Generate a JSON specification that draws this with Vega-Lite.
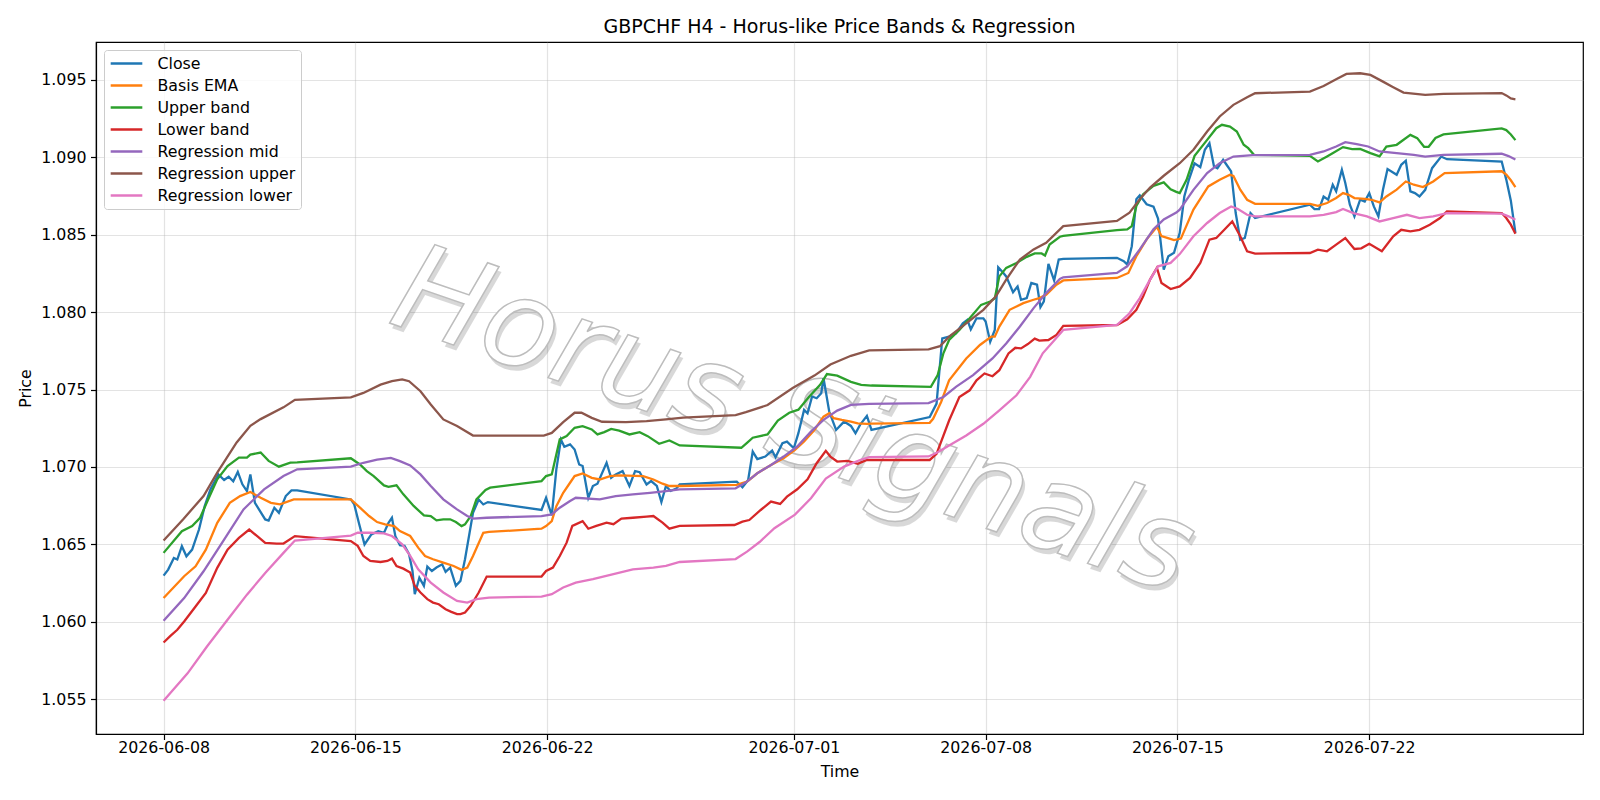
{
  "$schema": "https://vega.github.io/schema/vega-lite/v6.json",
  "width": 1487,
  "height": 692,
  "autosize": {"type": "none"},
  "padding": {"left": 96, "top": 42, "right": 17, "bottom": 66},
  "background": "white",
  "title": {"text": "GBPCHF H4 - Horus-like Price Bands & Regression", "fontSize": 19, "font": "DejaVu Sans", "fontWeight": "normal", "color": "black", "anchor": "middle", "offset": 10, "baseline": "alphabetic", "dy": 20},
  "datasets": {
    "wm": [{"t": "2026-06-30T23:24", "v": 1.07284, "label": "Horus Signals"}],
    "close": [
      {"t":"2026-06-08T00:00","v":1.06298},{"t":"2026-06-08T04:00","v":1.06337},{"t":"2026-06-08T09:00","v":1.06412},{"t":"2026-06-08T12:00","v":1.06402},{"t":"2026-06-08T16:00","v":1.06488},{"t":"2026-06-08T20:00","v":1.06423},{"t":"2026-06-09T01:00","v":1.06466},{"t":"2026-06-09T07:00","v":1.06596},{"t":"2026-06-09T12:00","v":1.06747},{"t":"2026-06-09T17:00","v":1.06855},{"t":"2026-06-10T00:00","v":1.06952},{"t":"2026-06-10T05:00","v":1.06916},{"t":"2026-06-10T09:00","v":1.06937},{"t":"2026-06-10T13:00","v":1.06907},{"t":"2026-06-10T17:00","v":1.06968},{"t":"2026-06-10T21:00","v":1.06888},{"t":"2026-06-11T01:00","v":1.06844},{"t":"2026-06-11T04:00","v":1.06952},{"t":"2026-06-11T08:00","v":1.06768},{"t":"2026-06-11T17:00","v":1.06661},{"t":"2026-06-11T20:00","v":1.06654},{"t":"2026-06-12T01:00","v":1.06736},{"t":"2026-06-12T05:00","v":1.06704},{"t":"2026-06-12T11:00","v":1.06812},{"t":"2026-06-12T16:00","v":1.06849},{"t":"2026-06-12T21:00","v":1.06849},
      {"t":"2026-06-14T20:00","v":1.0679},{"t":"2026-06-14T23:00","v":1.06758},{"t":"2026-06-15T03:00","v":1.06639},{"t":"2026-06-15T08:00","v":1.06499},{"t":"2026-06-15T14:00","v":1.06564},{"t":"2026-06-15T20:00","v":1.06585},{"t":"2026-06-16T01:00","v":1.06574},{"t":"2026-06-16T05:00","v":1.06639},{"t":"2026-06-16T08:00","v":1.06672},{"t":"2026-06-16T11:00","v":1.06553},{"t":"2026-06-16T15:00","v":1.06494},{"t":"2026-06-16T19:00","v":1.0649},{"t":"2026-06-16T23:00","v":1.06436},{"t":"2026-06-17T02:00","v":1.06328},{"t":"2026-06-17T04:00","v":1.06178},{"t":"2026-06-17T08:00","v":1.06285},{"t":"2026-06-17T12:00","v":1.06232},{"t":"2026-06-17T15:00","v":1.06356},{"t":"2026-06-17T19:00","v":1.06328},{"t":"2026-06-17T23:00","v":1.0635},{"t":"2026-06-18T04:00","v":1.06371},{"t":"2026-06-18T07:00","v":1.06322},{"t":"2026-06-18T11:00","v":1.0635},{"t":"2026-06-18T16:00","v":1.06232},{"t":"2026-06-18T20:00","v":1.06264},{"t":"2026-06-19T00:00","v":1.06404},{"t":"2026-06-19T04:00","v":1.06575},{"t":"2026-06-19T07:00","v":1.06704},{"t":"2026-06-19T12:00","v":1.0679},{"t":"2026-06-19T16:00","v":1.06758},{"t":"2026-06-19T20:00","v":1.06773},
      {"t":"2026-06-21T19:00","v":1.06722},{"t":"2026-06-21T23:00","v":1.06801},{"t":"2026-06-22T04:00","v":1.06687},{"t":"2026-06-22T08:00","v":1.06984},{"t":"2026-06-22T12:00","v":1.07177},{"t":"2026-06-22T15:00","v":1.0713},{"t":"2026-06-22T20:00","v":1.07146},{"t":"2026-06-23T00:00","v":1.07113},{"t":"2026-06-23T04:00","v":1.07016},{"t":"2026-06-23T07:00","v":1.07006},{"t":"2026-06-23T12:00","v":1.06801},{"t":"2026-06-23T16:00","v":1.06877},{"t":"2026-06-23T20:00","v":1.06892},{"t":"2026-06-24T04:00","v":1.07027},{"t":"2026-06-24T08:00","v":1.0693},{"t":"2026-06-24T12:00","v":1.06952},{"t":"2026-06-24T18:00","v":1.06973},{"t":"2026-06-25T00:00","v":1.06877},{"t":"2026-06-25T05:00","v":1.06973},{"t":"2026-06-25T09:00","v":1.06966},{"t":"2026-06-25T15:00","v":1.06887},{"t":"2026-06-25T19:00","v":1.06909},{"t":"2026-06-26T00:00","v":1.06877},{"t":"2026-06-26T04:00","v":1.06773},{"t":"2026-06-26T08:00","v":1.06877},{"t":"2026-06-26T12:00","v":1.06845},{"t":"2026-06-26T17:00","v":1.0686},{"t":"2026-06-26T20:00","v":1.06887},
      {"t":"2026-06-28T22:00","v":1.06905},{"t":"2026-06-29T03:00","v":1.06869},{"t":"2026-06-29T08:00","v":1.06916},{"t":"2026-06-29T12:00","v":1.07099},{"t":"2026-06-29T16:00","v":1.0705},{"t":"2026-06-29T23:00","v":1.07067},{"t":"2026-06-30T05:00","v":1.07106},{"t":"2026-06-30T08:00","v":1.07063},{"t":"2026-06-30T14:00","v":1.07153},{"t":"2026-06-30T18:00","v":1.07164},{"t":"2026-07-01T00:00","v":1.07121},{"t":"2026-07-01T04:00","v":1.07218},{"t":"2026-07-01T09:00","v":1.07369},{"t":"2026-07-01T12:00","v":1.07347},{"t":"2026-07-01T16:00","v":1.07455},{"t":"2026-07-01T20:00","v":1.07444},{"t":"2026-07-02T00:00","v":1.07476},{"t":"2026-07-02T02:00","v":1.07573},{"t":"2026-07-02T07:00","v":1.07358},{"t":"2026-07-02T13:00","v":1.07239},{"t":"2026-07-02T20:00","v":1.07293},{"t":"2026-07-03T02:00","v":1.07265},{"t":"2026-07-03T06:00","v":1.07218},{"t":"2026-07-03T10:00","v":1.07272},{"t":"2026-07-03T16:00","v":1.0733},{"t":"2026-07-03T20:00","v":1.07239},
      {"t":"2026-07-05T23:00","v":1.07322},{"t":"2026-07-06T05:00","v":1.07409},{"t":"2026-07-06T10:00","v":1.07831},{"t":"2026-07-06T16:00","v":1.07842},{"t":"2026-07-06T22:00","v":1.07863},{"t":"2026-07-07T04:00","v":1.07928},{"t":"2026-07-07T08:00","v":1.0795},{"t":"2026-07-07T11:00","v":1.07889},{"t":"2026-07-07T16:00","v":1.0796},{"t":"2026-07-07T22:00","v":1.0796},{"t":"2026-07-08T00:00","v":1.07939},{"t":"2026-07-08T04:00","v":1.07809},{"t":"2026-07-08T08:00","v":1.07885},{"t":"2026-07-08T11:00","v":1.0829},{"t":"2026-07-08T15:00","v":1.08257},{"t":"2026-07-08T18:00","v":1.08231},{"t":"2026-07-09T00:00","v":1.08128},{"t":"2026-07-09T04:00","v":1.08166},{"t":"2026-07-09T07:00","v":1.0808},{"t":"2026-07-09T12:00","v":1.08091},{"t":"2026-07-09T16:00","v":1.08188},{"t":"2026-07-09T21:00","v":1.08177},{"t":"2026-07-10T00:00","v":1.08032},{"t":"2026-07-10T03:00","v":1.08069},{"t":"2026-07-10T07:00","v":1.08312},{"t":"2026-07-10T12:00","v":1.08205},{"t":"2026-07-10T16:00","v":1.0834},{"t":"2026-07-10T20:00","v":1.08344},
      {"t":"2026-07-12T19:00","v":1.08351},{"t":"2026-07-13T01:00","v":1.08329},{"t":"2026-07-13T04:00","v":1.08307},{"t":"2026-07-13T08:00","v":1.08426},{"t":"2026-07-13T12:00","v":1.08729},{"t":"2026-07-13T15:00","v":1.08755},{"t":"2026-07-13T21:00","v":1.08697},{"t":"2026-07-14T03:00","v":1.08682},{"t":"2026-07-14T07:00","v":1.08604},{"t":"2026-07-14T12:00","v":1.08275},{"t":"2026-07-14T16:00","v":1.08361},{"t":"2026-07-14T21:00","v":1.08383},{"t":"2026-07-15T02:00","v":1.08512},{"t":"2026-07-15T06:00","v":1.08747},{"t":"2026-07-15T10:00","v":1.08855},{"t":"2026-07-15T15:00","v":1.08962},{"t":"2026-07-15T20:00","v":1.08937},{"t":"2026-07-16T00:00","v":1.09049},{"t":"2026-07-16T04:00","v":1.09092},{"t":"2026-07-16T08:00","v":1.08941},{"t":"2026-07-16T11:00","v":1.0893},{"t":"2026-07-16T16:00","v":1.08984},{"t":"2026-07-16T19:00","v":1.08952},{"t":"2026-07-16T23:00","v":1.08909},{"t":"2026-07-17T03:00","v":1.0864},{"t":"2026-07-17T07:00","v":1.08468},{"t":"2026-07-17T11:00","v":1.08479},{"t":"2026-07-17T16:00","v":1.0864},{"t":"2026-07-17T20:00","v":1.08608},
      {"t":"2026-07-19T20:00","v":1.08694},{"t":"2026-07-20T00:00","v":1.08666},{"t":"2026-07-20T04:00","v":1.08666},{"t":"2026-07-20T08:00","v":1.08747},{"t":"2026-07-20T12:00","v":1.08726},{"t":"2026-07-20T16:00","v":1.08823},{"t":"2026-07-20T19:00","v":1.0878},{"t":"2026-07-21T00:00","v":1.0892},{"t":"2026-07-21T03:00","v":1.08834},{"t":"2026-07-21T07:00","v":1.08694},{"t":"2026-07-21T11:00","v":1.08618},{"t":"2026-07-21T16:00","v":1.08726},{"t":"2026-07-21T20:00","v":1.08715},{"t":"2026-07-22T00:00","v":1.08769},{"t":"2026-07-22T04:00","v":1.08683},{"t":"2026-07-22T08:00","v":1.08618},{"t":"2026-07-22T12:00","v":1.0879},{"t":"2026-07-22T16:00","v":1.08924},{"t":"2026-07-23T00:00","v":1.08887},{"t":"2026-07-23T04:00","v":1.08952},{"t":"2026-07-23T08:00","v":1.08978},{"t":"2026-07-23T12:00","v":1.0878},{"t":"2026-07-23T16:00","v":1.08769},{"t":"2026-07-23T20:00","v":1.08747},{"t":"2026-07-24T01:00","v":1.0879},{"t":"2026-07-24T07:00","v":1.0893},{"t":"2026-07-24T15:00","v":1.09005},{"t":"2026-07-24T20:00","v":1.08988},
      {"t":"2026-07-26T20:00","v":1.08973},{"t":"2026-07-27T00:00","v":1.08856},{"t":"2026-07-27T04:00","v":1.0872},{"t":"2026-07-27T08:00","v":1.08511}
    ],
    "ema": [
      {"t":"2026-06-08T00:00","v":1.06153},{"t":"2026-06-08T18:00","v":1.06294},{"t":"2026-06-09T04:00","v":1.06358},{"t":"2026-06-09T13:00","v":1.06466},{"t":"2026-06-09T23:00","v":1.06639},{"t":"2026-06-10T10:00","v":1.06768},{"t":"2026-06-10T19:00","v":1.06812},{"t":"2026-06-11T04:00","v":1.06838},{"t":"2026-06-11T13:00","v":1.06801},{"t":"2026-06-11T22:00","v":1.06768},{"t":"2026-06-12T06:00","v":1.06758},{"t":"2026-06-12T18:00","v":1.0679},
      {"t":"2026-06-14T20:00","v":1.0679},{"t":"2026-06-15T04:00","v":1.06737},{"t":"2026-06-15T12:00","v":1.06683},{"t":"2026-06-15T19:00","v":1.06644},{"t":"2026-06-16T02:00","v":1.06629},{"t":"2026-06-16T10:00","v":1.06618},{"t":"2026-06-16T15:00","v":1.06586},{"t":"2026-06-17T00:00","v":1.06554},{"t":"2026-06-17T07:00","v":1.06479},{"t":"2026-06-17T13:00","v":1.06425},{"t":"2026-06-17T20:00","v":1.06404},{"t":"2026-06-18T05:00","v":1.06382},{"t":"2026-06-18T14:00","v":1.0636},{"t":"2026-06-18T21:00","v":1.06335},{"t":"2026-06-19T02:00","v":1.0635},{"t":"2026-06-19T07:00","v":1.06425},{"t":"2026-06-19T16:00","v":1.06575},{"t":"2026-06-19T21:00","v":1.0658},
      {"t":"2026-06-21T19:00","v":1.06601},{"t":"2026-06-21T23:00","v":1.06618},{"t":"2026-06-22T04:00","v":1.0665},{"t":"2026-06-22T08:00","v":1.06747},{"t":"2026-06-22T14:00","v":1.06833},{"t":"2026-06-22T20:00","v":1.06898},{"t":"2026-06-23T00:00","v":1.06941},{"t":"2026-06-23T07:00","v":1.06958},{"t":"2026-06-23T15:00","v":1.0693},{"t":"2026-06-23T22:00","v":1.06919},{"t":"2026-06-24T07:00","v":1.06941},{"t":"2026-06-24T15:00","v":1.06945},{"t":"2026-06-25T12:00","v":1.06941},{"t":"2026-06-25T21:00","v":1.06919},{"t":"2026-06-26T05:00","v":1.06892},{"t":"2026-06-26T11:00","v":1.06877},{"t":"2026-06-26T20:00","v":1.06877},
      {"t":"2026-06-28T22:00","v":1.06884},{"t":"2026-06-29T07:00","v":1.06905},{"t":"2026-06-29T16:00","v":1.06959},{"t":"2026-06-30T04:00","v":1.07013},{"t":"2026-06-30T15:00","v":1.07056},{"t":"2026-07-01T01:00","v":1.0711},{"t":"2026-07-01T09:00","v":1.07164},{"t":"2026-07-01T18:00","v":1.07239},{"t":"2026-07-02T02:00","v":1.07325},{"t":"2026-07-02T07:00","v":1.07347},{"t":"2026-07-02T11:00","v":1.07315},{"t":"2026-07-02T18:00","v":1.07304},{"t":"2026-07-03T02:00","v":1.07293},{"t":"2026-07-03T08:00","v":1.07282},{"t":"2026-07-03T16:00","v":1.07278},{"t":"2026-07-03T20:00","v":1.0728},
      {"t":"2026-07-05T23:00","v":1.07285},{"t":"2026-07-06T02:00","v":1.07311},{"t":"2026-07-06T09:00","v":1.0742},{"t":"2026-07-06T16:00","v":1.0756},{"t":"2026-07-07T07:00","v":1.07701},{"t":"2026-07-07T19:00","v":1.07788},{"t":"2026-07-08T05:00","v":1.07842},{"t":"2026-07-08T08:00","v":1.07842},{"t":"2026-07-08T12:00","v":1.07907},{"t":"2026-07-08T21:00","v":1.08015},{"t":"2026-07-09T09:00","v":1.08058},{"t":"2026-07-09T18:00","v":1.0808},{"t":"2026-07-09T23:00","v":1.08091},{"t":"2026-07-10T05:00","v":1.08112},{"t":"2026-07-10T14:00","v":1.08177},{"t":"2026-07-10T20:00","v":1.08205},
      {"t":"2026-07-12T19:00","v":1.08221},{"t":"2026-07-13T05:00","v":1.08253},{"t":"2026-07-13T12:00","v":1.08361},{"t":"2026-07-13T21:00","v":1.0847},{"t":"2026-07-14T06:00","v":1.08552},{"t":"2026-07-14T10:00","v":1.08491},{"t":"2026-07-14T15:00","v":1.0848},{"t":"2026-07-14T21:00","v":1.08465},{"t":"2026-07-15T03:00","v":1.08475},{"t":"2026-07-15T14:00","v":1.08662},{"t":"2026-07-16T03:00","v":1.08812},{"t":"2026-07-16T13:00","v":1.08855},{"t":"2026-07-16T22:00","v":1.08887},{"t":"2026-07-17T01:00","v":1.0888},{"t":"2026-07-17T07:00","v":1.08791},{"t":"2026-07-17T13:00","v":1.08726},{"t":"2026-07-17T20:00","v":1.087},
      {"t":"2026-07-19T20:00","v":1.087},{"t":"2026-07-20T03:00","v":1.08687},{"t":"2026-07-20T11:00","v":1.08705},{"t":"2026-07-20T19:00","v":1.08737},{"t":"2026-07-21T01:00","v":1.08769},{"t":"2026-07-21T06:00","v":1.08758},{"t":"2026-07-21T11:00","v":1.08737},{"t":"2026-07-21T20:00","v":1.08732},{"t":"2026-07-22T02:00","v":1.08726},{"t":"2026-07-22T09:00","v":1.08709},{"t":"2026-07-22T15:00","v":1.08747},{"t":"2026-07-23T00:00","v":1.08791},{"t":"2026-07-23T08:00","v":1.08844},{"t":"2026-07-23T15:00","v":1.08823},{"t":"2026-07-23T23:00","v":1.08808},{"t":"2026-07-24T08:00","v":1.08844},{"t":"2026-07-24T18:00","v":1.08898},
      {"t":"2026-07-26T20:00","v":1.0891},{"t":"2026-07-27T00:00","v":1.08889},{"t":"2026-07-27T04:00","v":1.08852},{"t":"2026-07-27T08:00","v":1.08807}
    ],
    "upper": [
      {"t":"2026-06-08T00:00","v":1.06445},{"t":"2026-06-08T16:00","v":1.06585},{"t":"2026-06-09T01:00","v":1.06618},{"t":"2026-06-09T08:00","v":1.06672},{"t":"2026-06-09T15:00","v":1.0679},{"t":"2026-06-09T23:00","v":1.0692},{"t":"2026-06-10T08:00","v":1.07006},{"t":"2026-06-10T18:00","v":1.0706},{"t":"2026-06-11T01:00","v":1.0706},{"t":"2026-06-11T04:00","v":1.0708},{"t":"2026-06-11T13:00","v":1.07093},{"t":"2026-06-11T20:00","v":1.07039},{"t":"2026-06-12T05:00","v":1.07002},{"t":"2026-06-12T15:00","v":1.07028},{"t":"2026-06-12T21:00","v":1.0703},
      {"t":"2026-06-14T20:00","v":1.07056},{"t":"2026-06-15T04:00","v":1.07016},{"t":"2026-06-15T10:00","v":1.06973},{"t":"2026-06-15T16:00","v":1.06941},{"t":"2026-06-16T01:00","v":1.06881},{"t":"2026-06-16T05:00","v":1.06872},{"t":"2026-06-16T12:00","v":1.06881},{"t":"2026-06-16T18:00","v":1.06823},{"t":"2026-06-17T03:00","v":1.06748},{"t":"2026-06-17T12:00","v":1.06687},{"t":"2026-06-17T18:00","v":1.06683},{"t":"2026-06-17T23:00","v":1.06655},{"t":"2026-06-18T05:00","v":1.06662},{"t":"2026-06-18T11:00","v":1.06662},{"t":"2026-06-18T16:00","v":1.06644},{"t":"2026-06-18T21:00","v":1.06618},{"t":"2026-06-19T00:00","v":1.06629},{"t":"2026-06-19T05:00","v":1.06683},{"t":"2026-06-19T10:00","v":1.0679},{"t":"2026-06-19T18:00","v":1.06851},{"t":"2026-06-19T22:00","v":1.06866},
      {"t":"2026-06-21T19:00","v":1.06909},{"t":"2026-06-21T23:00","v":1.06941},{"t":"2026-06-22T04:00","v":1.06952},{"t":"2026-06-22T11:00","v":1.07178},{"t":"2026-06-22T17:00","v":1.07199},{"t":"2026-06-23T00:00","v":1.07253},{"t":"2026-06-23T07:00","v":1.07264},{"t":"2026-06-23T15:00","v":1.07242},{"t":"2026-06-23T20:00","v":1.0721},{"t":"2026-06-24T02:00","v":1.07225},{"t":"2026-06-24T08:00","v":1.07246},{"t":"2026-06-24T15:00","v":1.07235},{"t":"2026-06-25T00:00","v":1.0721},{"t":"2026-06-25T09:00","v":1.07225},{"t":"2026-06-25T16:00","v":1.07199},{"t":"2026-06-26T02:00","v":1.0715},{"t":"2026-06-26T11:00","v":1.07171},{"t":"2026-06-26T20:00","v":1.07139},
      {"t":"2026-06-29T02:00","v":1.07124},{"t":"2026-06-29T07:00","v":1.07156},{"t":"2026-06-29T12:00","v":1.07189},{"t":"2026-06-30T01:00","v":1.0721},{"t":"2026-06-30T10:00","v":1.073},{"t":"2026-06-30T20:00","v":1.0735},{"t":"2026-07-01T04:00","v":1.0737},{"t":"2026-07-01T13:00","v":1.0745},{"t":"2026-07-01T23:00","v":1.0753},{"t":"2026-07-02T05:00","v":1.076},{"t":"2026-07-02T14:00","v":1.0759},{"t":"2026-07-03T02:00","v":1.0755},{"t":"2026-07-03T11:00","v":1.0753},{"t":"2026-07-03T20:00","v":1.07526},
      {"t":"2026-07-06T00:00","v":1.07517},{"t":"2026-07-06T06:00","v":1.07593},{"t":"2026-07-06T11:00","v":1.07734},{"t":"2026-07-06T16:00","v":1.0782},{"t":"2026-07-07T01:00","v":1.07885},{"t":"2026-07-07T10:00","v":1.07961},{"t":"2026-07-07T20:00","v":1.08047},{"t":"2026-07-08T04:00","v":1.08069},{"t":"2026-07-08T08:00","v":1.0809},{"t":"2026-07-08T12:00","v":1.08231},{"t":"2026-07-08T18:00","v":1.08286},{"t":"2026-07-09T03:00","v":1.08318},{"t":"2026-07-09T12:00","v":1.08357},{"t":"2026-07-09T19:00","v":1.08379},{"t":"2026-07-10T01:00","v":1.08379},{"t":"2026-07-10T04:00","v":1.08366},{"t":"2026-07-10T08:00","v":1.08437},{"t":"2026-07-10T17:00","v":1.08487},{"t":"2026-07-10T20:00","v":1.08492},
      {"t":"2026-07-12T19:00","v":1.0853},{"t":"2026-07-13T04:00","v":1.08535},{"t":"2026-07-13T08:00","v":1.08556},{"t":"2026-07-13T12:00","v":1.08686},{"t":"2026-07-13T18:00","v":1.08762},{"t":"2026-07-14T03:00","v":1.08816},{"t":"2026-07-14T12:00","v":1.08838},{"t":"2026-07-14T18:00","v":1.08794},{"t":"2026-07-14T23:00","v":1.08777},{"t":"2026-07-15T02:00","v":1.08769},{"t":"2026-07-15T08:00","v":1.08855},{"t":"2026-07-15T15:00","v":1.0901},{"t":"2026-07-16T02:00","v":1.09113},{"t":"2026-07-16T10:00","v":1.09188},{"t":"2026-07-16T15:00","v":1.0921},{"t":"2026-07-16T22:00","v":1.09199},{"t":"2026-07-17T04:00","v":1.09167},{"t":"2026-07-17T10:00","v":1.09081},{"t":"2026-07-17T14:00","v":1.09059},{"t":"2026-07-17T19:00","v":1.09016},
      {"t":"2026-07-19T20:00","v":1.0901},{"t":"2026-07-20T03:00","v":1.08973},{"t":"2026-07-20T11:00","v":1.09006},{"t":"2026-07-20T17:00","v":1.09031},{"t":"2026-07-21T01:00","v":1.09066},{"t":"2026-07-21T09:00","v":1.09053},{"t":"2026-07-21T16:00","v":1.09055},{"t":"2026-07-22T01:00","v":1.09027},{"t":"2026-07-22T09:00","v":1.09006},{"t":"2026-07-22T15:00","v":1.0907},{"t":"2026-07-23T00:00","v":1.09081},{"t":"2026-07-23T12:00","v":1.09145},{"t":"2026-07-23T18:00","v":1.09124},{"t":"2026-07-24T00:00","v":1.09068},{"t":"2026-07-24T04:00","v":1.09068},{"t":"2026-07-24T10:00","v":1.09125},{"t":"2026-07-24T17:00","v":1.09148},
      {"t":"2026-07-26T20:00","v":1.09187},{"t":"2026-07-27T00:00","v":1.09176},{"t":"2026-07-27T04:00","v":1.09148},{"t":"2026-07-27T08:00","v":1.09111}
    ],
    "lower": [
      {"t":"2026-06-08T00:00","v":1.05866},{"t":"2026-06-08T06:00","v":1.05909},{"t":"2026-06-08T12:00","v":1.05948},{"t":"2026-06-08T18:00","v":1.06002},{"t":"2026-06-09T04:00","v":1.06099},{"t":"2026-06-09T13:00","v":1.06186},{"t":"2026-06-09T23:00","v":1.06348},{"t":"2026-06-10T08:00","v":1.06466},{"t":"2026-06-10T18:00","v":1.06542},{"t":"2026-06-11T03:00","v":1.06596},{"t":"2026-06-11T10:00","v":1.06553},{"t":"2026-06-11T17:00","v":1.0651},{"t":"2026-06-12T03:00","v":1.06505},{"t":"2026-06-12T09:00","v":1.06505},{"t":"2026-06-12T19:00","v":1.06553},
      {"t":"2026-06-14T20:00","v":1.06521},{"t":"2026-06-15T02:00","v":1.0649},{"t":"2026-06-15T07:00","v":1.06425},{"t":"2026-06-15T13:00","v":1.06393},{"t":"2026-06-15T22:00","v":1.06386},{"t":"2026-06-16T04:00","v":1.06393},{"t":"2026-06-16T08:00","v":1.06408},{"t":"2026-06-16T12:00","v":1.0636},{"t":"2026-06-16T18:00","v":1.06343},{"t":"2026-06-17T00:00","v":1.06318},{"t":"2026-06-17T04:00","v":1.06232},{"t":"2026-06-17T09:00","v":1.06189},{"t":"2026-06-17T15:00","v":1.06146},{"t":"2026-06-17T20:00","v":1.06124},{"t":"2026-06-18T01:00","v":1.06113},{"t":"2026-06-18T07:00","v":1.06081},{"t":"2026-06-18T12:00","v":1.06064},{"t":"2026-06-18T17:00","v":1.06049},{"t":"2026-06-18T20:00","v":1.06049},{"t":"2026-06-19T00:00","v":1.0606},{"t":"2026-06-19T05:00","v":1.06103},{"t":"2026-06-19T12:00","v":1.06189},{"t":"2026-06-19T19:00","v":1.06292},
      {"t":"2026-06-21T19:00","v":1.06292},{"t":"2026-06-21T23:00","v":1.06328},{"t":"2026-06-22T05:00","v":1.0635},{"t":"2026-06-22T11:00","v":1.06425},{"t":"2026-06-22T17:00","v":1.06511},{"t":"2026-06-22T22:00","v":1.06619},{"t":"2026-06-23T07:00","v":1.0665},{"t":"2026-06-23T12:00","v":1.06601},{"t":"2026-06-23T19:00","v":1.06619},{"t":"2026-06-24T04:00","v":1.0664},{"t":"2026-06-24T10:00","v":1.0663},{"t":"2026-06-24T17:00","v":1.06666},{"t":"2026-06-25T03:00","v":1.06672},{"t":"2026-06-25T15:00","v":1.06679},{"t":"2026-06-25T21:00","v":1.06683},{"t":"2026-06-26T05:00","v":1.0664},{"t":"2026-06-26T11:00","v":1.06601},{"t":"2026-06-26T20:00","v":1.06619},
      {"t":"2026-06-28T20:00","v":1.06625},{"t":"2026-06-29T03:00","v":1.06647},{"t":"2026-06-29T09:00","v":1.06657},{"t":"2026-06-29T19:00","v":1.06722},{"t":"2026-06-30T04:00","v":1.06776},{"t":"2026-06-30T12:00","v":1.06761},{"t":"2026-06-30T18:00","v":1.06808},{"t":"2026-07-01T03:00","v":1.06856},{"t":"2026-07-01T12:00","v":1.0692},{"t":"2026-07-01T20:00","v":1.07024},{"t":"2026-07-02T04:00","v":1.07104},{"t":"2026-07-02T08:00","v":1.07067},{"t":"2026-07-02T14:00","v":1.07035},{"t":"2026-07-02T23:00","v":1.07039},{"t":"2026-07-03T08:00","v":1.0702},{"t":"2026-07-03T16:00","v":1.07045},{"t":"2026-07-03T20:00","v":1.07045},
      {"t":"2026-07-05T23:00","v":1.07045},{"t":"2026-07-06T05:00","v":1.07084},{"t":"2026-07-06T16:00","v":1.073},{"t":"2026-07-07T01:00","v":1.07452},{"t":"2026-07-07T10:00","v":1.07495},{"t":"2026-07-07T16:00","v":1.0756},{"t":"2026-07-07T23:00","v":1.07604},{"t":"2026-07-08T06:00","v":1.07586},{"t":"2026-07-08T12:00","v":1.07625},{"t":"2026-07-08T20:00","v":1.07733},{"t":"2026-07-09T02:00","v":1.0777},{"t":"2026-07-09T07:00","v":1.07766},{"t":"2026-07-09T13:00","v":1.07794},{"t":"2026-07-09T19:00","v":1.07829},{"t":"2026-07-09T23:00","v":1.07816},{"t":"2026-07-10T07:00","v":1.0782},{"t":"2026-07-10T14:00","v":1.07853},{"t":"2026-07-10T20:00","v":1.07911},
      {"t":"2026-07-12T19:00","v":1.07917},{"t":"2026-07-13T04:00","v":1.07954},{"t":"2026-07-13T12:00","v":1.08015},{"t":"2026-07-13T18:00","v":1.08102},{"t":"2026-07-14T00:00","v":1.0821},{"t":"2026-07-14T06:00","v":1.08286},{"t":"2026-07-14T10:00","v":1.08188},{"t":"2026-07-14T18:00","v":1.08149},{"t":"2026-07-15T02:00","v":1.08166},{"t":"2026-07-15T11:00","v":1.08221},{"t":"2026-07-15T20:00","v":1.08318},{"t":"2026-07-16T04:00","v":1.08468},{"t":"2026-07-16T10:00","v":1.08479},{"t":"2026-07-16T17:00","v":1.08532},{"t":"2026-07-17T00:00","v":1.08586},{"t":"2026-07-17T07:00","v":1.0849},{"t":"2026-07-17T13:00","v":1.08393},{"t":"2026-07-17T20:00","v":1.08378},
      {"t":"2026-07-19T20:00","v":1.08382},{"t":"2026-07-20T03:00","v":1.08404},{"t":"2026-07-20T11:00","v":1.08393},{"t":"2026-07-20T19:00","v":1.08436},{"t":"2026-07-21T03:00","v":1.08479},{"t":"2026-07-21T11:00","v":1.08408},{"t":"2026-07-21T17:00","v":1.08412},{"t":"2026-07-22T00:00","v":1.08442},{"t":"2026-07-22T11:00","v":1.08393},{"t":"2026-07-22T21:00","v":1.0849},{"t":"2026-07-23T04:00","v":1.08532},{"t":"2026-07-23T12:00","v":1.08522},{"t":"2026-07-23T20:00","v":1.08532},{"t":"2026-07-24T05:00","v":1.08565},{"t":"2026-07-24T14:00","v":1.08608},{"t":"2026-07-24T20:00","v":1.08651},
      {"t":"2026-07-26T20:00","v":1.0864},{"t":"2026-07-27T00:00","v":1.08608},{"t":"2026-07-27T04:00","v":1.08565},{"t":"2026-07-27T08:00","v":1.08506}
    ],
    "rmid": [
      {"t":"2026-06-08T00:00","v":1.06006},{"t":"2026-06-08T18:00","v":1.06153},{"t":"2026-06-09T11:00","v":1.06326},{"t":"2026-06-10T05:00","v":1.06531},{"t":"2026-06-10T22:00","v":1.06726},{"t":"2026-06-11T16:00","v":1.06855},{"t":"2026-06-12T09:00","v":1.06942},{"t":"2026-06-12T21:00","v":1.06985},
      {"t":"2026-06-14T20:00","v":1.07002},{"t":"2026-06-15T07:00","v":1.07027},{"t":"2026-06-15T19:00","v":1.07048},{"t":"2026-06-16T07:00","v":1.07059},{"t":"2026-06-16T15:00","v":1.07038},{"t":"2026-06-17T00:00","v":1.0701},{"t":"2026-06-17T09:00","v":1.06952},{"t":"2026-06-17T18:00","v":1.06877},{"t":"2026-06-18T05:00","v":1.06791},{"t":"2026-06-18T17:00","v":1.06726},{"t":"2026-06-19T02:00","v":1.06683},{"t":"2026-06-19T07:00","v":1.06666},{"t":"2026-06-19T19:00","v":1.06672},
      {"t":"2026-06-21T19:00","v":1.06683},{"t":"2026-06-22T04:00","v":1.06694},{"t":"2026-06-22T11:00","v":1.06737},{"t":"2026-06-22T20:00","v":1.0678},{"t":"2026-06-23T01:00","v":1.06801},{"t":"2026-06-23T22:00","v":1.0679},{"t":"2026-06-24T12:00","v":1.06812},{"t":"2026-06-25T03:00","v":1.06823},{"t":"2026-06-25T18:00","v":1.06833},{"t":"2026-06-26T08:00","v":1.06844},{"t":"2026-06-26T20:00","v":1.06855},
      {"t":"2026-06-28T21:00","v":1.06862},{"t":"2026-06-29T07:00","v":1.06905},{"t":"2026-06-29T16:00","v":1.06959},{"t":"2026-06-30T04:00","v":1.07013},{"t":"2026-06-30T15:00","v":1.07067},{"t":"2026-07-01T03:00","v":1.07132},{"t":"2026-07-01T15:00","v":1.07228},{"t":"2026-07-02T02:00","v":1.07304},{"t":"2026-07-02T14:00","v":1.07364},{"t":"2026-07-03T02:00","v":1.07401},{"t":"2026-07-03T18:00","v":1.07407},
      {"t":"2026-07-05T22:00","v":1.07412},{"t":"2026-07-06T11:00","v":1.07452},{"t":"2026-07-06T22:00","v":1.07517},{"t":"2026-07-07T13:00","v":1.07593},{"t":"2026-07-08T06:00","v":1.07701},{"t":"2026-07-08T18:00","v":1.07798},{"t":"2026-07-09T06:00","v":1.07907},{"t":"2026-07-09T18:00","v":1.08026},{"t":"2026-07-10T05:00","v":1.08123},{"t":"2026-07-10T17:00","v":1.08214},{"t":"2026-07-10T20:00","v":1.08225},
      {"t":"2026-07-12T19:00","v":1.08253},{"t":"2026-07-13T04:00","v":1.08296},{"t":"2026-07-13T15:00","v":1.08405},{"t":"2026-07-14T03:00","v":1.08535},{"t":"2026-07-14T12:00","v":1.08599},{"t":"2026-07-14T23:00","v":1.08643},{"t":"2026-07-15T02:00","v":1.08662},{"t":"2026-07-15T14:00","v":1.0879},{"t":"2026-07-16T02:00","v":1.08898},{"t":"2026-07-16T13:00","v":1.08962},{"t":"2026-07-17T01:00","v":1.09005},{"t":"2026-07-17T18:00","v":1.09014},
      {"t":"2026-07-19T20:00","v":1.09016},{"t":"2026-07-20T08:00","v":1.09038},{"t":"2026-07-20T19:00","v":1.0907},{"t":"2026-07-21T03:00","v":1.09098},{"t":"2026-07-21T13:00","v":1.09085},{"t":"2026-07-21T23:00","v":1.0907},{"t":"2026-07-22T09:00","v":1.09038},{"t":"2026-07-23T00:00","v":1.09027},{"t":"2026-07-23T15:00","v":1.09016},{"t":"2026-07-24T01:00","v":1.09005},{"t":"2026-07-24T17:00","v":1.09016},
      {"t":"2026-07-26T20:00","v":1.09023},{"t":"2026-07-27T02:00","v":1.09008},{"t":"2026-07-27T08:00","v":1.08986}
    ],
    "rupper": [
      {"t":"2026-06-08T00:00","v":1.06525},{"t":"2026-06-08T17:00","v":1.06661},{"t":"2026-06-09T11:00","v":1.06812},{"t":"2026-06-09T23:00","v":1.06963},{"t":"2026-06-10T16:00","v":1.07158},{"t":"2026-06-11T04:00","v":1.07266},{"t":"2026-06-11T13:00","v":1.07309},{"t":"2026-06-12T09:00","v":1.07385},{"t":"2026-06-12T19:00","v":1.07434},
      {"t":"2026-06-14T20:00","v":1.07449},{"t":"2026-06-15T07:00","v":1.07478},{"t":"2026-06-15T22:00","v":1.07532},{"t":"2026-06-16T08:00","v":1.07554},{"t":"2026-06-16T17:00","v":1.07565},{"t":"2026-06-16T23:00","v":1.07554},{"t":"2026-06-17T09:00","v":1.07489},{"t":"2026-06-17T18:00","v":1.07403},{"t":"2026-06-18T05:00","v":1.07307},{"t":"2026-06-18T17:00","v":1.07264},{"t":"2026-06-19T07:00","v":1.07203},
      {"t":"2026-06-21T21:00","v":1.07203},{"t":"2026-06-22T04:00","v":1.0722},{"t":"2026-06-22T14:00","v":1.0729},{"t":"2026-06-23T00:00","v":1.0735},{"t":"2026-06-23T06:00","v":1.0735},{"t":"2026-06-23T15:00","v":1.07317},{"t":"2026-06-24T00:00","v":1.07292},{"t":"2026-06-24T21:00","v":1.0729},{"t":"2026-06-25T15:00","v":1.07296},{"t":"2026-06-26T08:00","v":1.07307},{"t":"2026-06-26T23:00","v":1.07318},
      {"t":"2026-06-28T21:00","v":1.07335},{"t":"2026-06-29T06:00","v":1.07354},{"t":"2026-06-30T01:00","v":1.074},{"t":"2026-06-30T23:00","v":1.0751},{"t":"2026-07-01T18:00","v":1.0759},{"t":"2026-07-02T08:00","v":1.07662},{"t":"2026-07-03T02:00","v":1.07718},{"t":"2026-07-03T18:00","v":1.07753},
      {"t":"2026-07-05T22:00","v":1.0776},{"t":"2026-07-06T08:00","v":1.0778},{"t":"2026-07-06T16:00","v":1.07842},{"t":"2026-07-07T07:00","v":1.07928},{"t":"2026-07-07T22:00","v":1.08015},{"t":"2026-07-08T09:00","v":1.08102},{"t":"2026-07-08T18:00","v":1.0821},{"t":"2026-07-09T06:00","v":1.0834},{"t":"2026-07-09T18:00","v":1.08405},{"t":"2026-07-10T05:00","v":1.08448},{"t":"2026-07-10T20:00","v":1.08556},
      {"t":"2026-07-12T19:00","v":1.08589},{"t":"2026-07-13T06:00","v":1.08643},{"t":"2026-07-13T15:00","v":1.08729},{"t":"2026-07-14T00:00","v":1.08805},{"t":"2026-07-14T12:00","v":1.08881},{"t":"2026-07-15T02:00","v":1.08962},{"t":"2026-07-15T14:00","v":1.09049},{"t":"2026-07-16T02:00","v":1.09167},{"t":"2026-07-16T13:00","v":1.09264},{"t":"2026-07-17T01:00","v":1.09339},{"t":"2026-07-17T13:00","v":1.09388},{"t":"2026-07-17T20:00","v":1.09414},
      {"t":"2026-07-19T20:00","v":1.09425},{"t":"2026-07-20T08:00","v":1.09461},{"t":"2026-07-20T19:00","v":1.09504},{"t":"2026-07-21T04:00","v":1.09539},{"t":"2026-07-21T16:00","v":1.09543},{"t":"2026-07-22T01:00","v":1.09532},{"t":"2026-07-22T12:00","v":1.09489},{"t":"2026-07-22T21:00","v":1.09453},{"t":"2026-07-23T06:00","v":1.09418},{"t":"2026-07-24T01:00","v":1.09403},{"t":"2026-07-24T17:00","v":1.0941},
      {"t":"2026-07-26T20:00","v":1.09415},{"t":"2026-07-27T00:00","v":1.094},{"t":"2026-07-27T04:00","v":1.0938},{"t":"2026-07-27T08:00","v":1.09375}
    ],
    "rlower": [
      {"t":"2026-06-08T00:00","v":1.0549},{"t":"2026-06-08T21:00","v":1.05667},{"t":"2026-06-09T14:00","v":1.0584},{"t":"2026-06-10T08:00","v":1.06013},{"t":"2026-06-11T01:00","v":1.06175},{"t":"2026-06-11T17:00","v":1.06315},{"t":"2026-06-12T09:00","v":1.06445},{"t":"2026-06-12T19:00","v":1.06525},
      {"t":"2026-06-14T20:00","v":1.06557},{"t":"2026-06-15T02:00","v":1.06575},{"t":"2026-06-15T13:00","v":1.06575},{"t":"2026-06-16T01:00","v":1.06571},{"t":"2026-06-16T08:00","v":1.06554},{"t":"2026-06-16T17:00","v":1.065},{"t":"2026-06-17T00:00","v":1.06425},{"t":"2026-06-17T07:00","v":1.06339},{"t":"2026-06-17T18:00","v":1.06253},{"t":"2026-06-18T05:00","v":1.06189},{"t":"2026-06-18T17:00","v":1.06135},{"t":"2026-06-19T02:00","v":1.06124},{"t":"2026-06-19T10:00","v":1.06146},{"t":"2026-06-19T21:00","v":1.06156},
      {"t":"2026-06-21T19:00","v":1.06163},{"t":"2026-06-22T04:00","v":1.06178},{"t":"2026-06-22T14:00","v":1.06221},{"t":"2026-06-23T01:00","v":1.06253},{"t":"2026-06-23T16:00","v":1.06275},{"t":"2026-06-24T10:00","v":1.06307},{"t":"2026-06-25T03:00","v":1.06339},{"t":"2026-06-25T21:00","v":1.0635},{"t":"2026-06-26T08:00","v":1.06361},{"t":"2026-06-26T20:00","v":1.06386},
      {"t":"2026-06-28T21:00","v":1.06405},{"t":"2026-06-29T07:00","v":1.06453},{"t":"2026-06-29T18:00","v":1.06515},{"t":"2026-06-30T07:00","v":1.06604},{"t":"2026-07-01T01:00","v":1.06692},{"t":"2026-07-01T15:00","v":1.06798},{"t":"2026-07-02T04:00","v":1.06925},{"t":"2026-07-02T20:00","v":1.07002},{"t":"2026-07-03T10:00","v":1.07045},{"t":"2026-07-03T18:00","v":1.07064},
      {"t":"2026-07-05T22:00","v":1.07068},{"t":"2026-07-06T06:00","v":1.07095},{"t":"2026-07-06T16:00","v":1.07138},{"t":"2026-07-07T07:00","v":1.07203},{"t":"2026-07-07T22:00","v":1.07279},{"t":"2026-07-08T12:00","v":1.07366},{"t":"2026-07-09T03:00","v":1.07463},{"t":"2026-07-09T15:00","v":1.07582},{"t":"2026-07-10T02:00","v":1.07734},{"t":"2026-07-10T11:00","v":1.07809},{"t":"2026-07-10T20:00","v":1.07885},
      {"t":"2026-07-12T19:00","v":1.07917},{"t":"2026-07-13T06:00","v":1.07993},{"t":"2026-07-13T15:00","v":1.08091},{"t":"2026-07-14T00:00","v":1.0821},{"t":"2026-07-14T07:00","v":1.08296},{"t":"2026-07-14T18:00","v":1.08318},{"t":"2026-07-15T02:00","v":1.08375},{"t":"2026-07-15T14:00","v":1.0849},{"t":"2026-07-16T02:00","v":1.08576},{"t":"2026-07-16T13:00","v":1.0864},{"t":"2026-07-16T23:00","v":1.08683},{"t":"2026-07-17T05:00","v":1.08666},{"t":"2026-07-17T13:00","v":1.08629},{"t":"2026-07-17T20:00","v":1.08619},
      {"t":"2026-07-19T20:00","v":1.08619},{"t":"2026-07-20T08:00","v":1.08629},{"t":"2026-07-20T19:00","v":1.08646},{"t":"2026-07-21T01:00","v":1.08666},{"t":"2026-07-21T10:00","v":1.0864},{"t":"2026-07-21T22:00","v":1.08619},{"t":"2026-07-22T09:00","v":1.08586},{"t":"2026-07-22T21:00","v":1.08608},{"t":"2026-07-23T09:00","v":1.08629},{"t":"2026-07-23T20:00","v":1.08608},{"t":"2026-07-24T08:00","v":1.08619},{"t":"2026-07-24T20:00","v":1.0864},
      {"t":"2026-07-26T20:00","v":1.08636},{"t":"2026-07-27T02:00","v":1.08619},{"t":"2026-07-27T08:00","v":1.08597}
    ]
  },
  "encoding": {
    "x": {
      "field": "t", "type": "temporal", "title": "Time",
      "scale": {"domain": [{"year": 2026, "month": 6, "date": 5, "hours": 12, "minutes": 48}, {"year": 2026, "month": 7, "date": 29, "hours": 19, "minutes": 12}]},
      "axis": {"values": [{"year": 2026, "month": 6, "date": 8}, {"year": 2026, "month": 6, "date": 15}, {"year": 2026, "month": 6, "date": 22}, {"year": 2026, "month": 7, "date": 1}, {"year": 2026, "month": 7, "date": 8}, {"year": 2026, "month": 7, "date": 15}, {"year": 2026, "month": 7, "date": 22}], "format": "%Y-%m-%d", "labelFlush": false, "labelOverlap": false, "labelPadding": 1, "titlePadding": 9}
    },
    "y": {
      "field": "v", "type": "quantitative", "title": "Price",
      "scale": {"domain": [1.05275, 1.09745], "nice": false, "zero": false},
      "axis": {"values": [1.055, 1.06, 1.065, 1.07, 1.075, 1.08, 1.085, 1.09, 1.095], "format": ".3f", "titlePadding": 7}
    }
  },
  "layer": [
    {
      "data": {"name": "wm"},
      "mark": {"type": "text", "font": "DejaVu Sans", "fontStyle": "italic", "fontSize": 122, "angle": 19, "align": "center", "baseline": "middle", "color": "#000000", "opacity": 0.15, "dx": 4, "dy": 4},
      "encoding": {"text": {"field": "label", "type": "nominal"}}
    },
    {
      "data": {"name": "wm"},
      "mark": {"type": "text", "font": "DejaVu Sans", "fontStyle": "italic", "fontSize": 122, "angle": 19, "align": "center", "baseline": "middle", "color": "#ffffff", "stroke": "#bdbdbd", "strokeWidth": 1.5},
      "encoding": {"text": {"field": "label", "type": "nominal"}}
    },
    {"data": {"name": "close"}, "mark": {"type": "line", "strokeWidth": 2.3}, "encoding": {"color": {"datum": "Close", "type": "nominal", "scale": {"domain": ["Close", "Basis EMA", "Upper band", "Lower band", "Regression mid", "Regression upper", "Regression lower"], "range": ["#1f77b4", "#ff7f0e", "#2ca02c", "#d62728", "#9467bd", "#8c564b", "#e377c2"]}, "legend": {"title": null, "orient": "top-left"}}}},
    {"data": {"name": "ema"}, "mark": {"type": "line", "strokeWidth": 2.3}, "encoding": {"color": {"datum": "Basis EMA", "type": "nominal"}}},
    {"data": {"name": "upper"}, "mark": {"type": "line", "strokeWidth": 2.3}, "encoding": {"color": {"datum": "Upper band", "type": "nominal"}}},
    {"data": {"name": "lower"}, "mark": {"type": "line", "strokeWidth": 2.3}, "encoding": {"color": {"datum": "Lower band", "type": "nominal"}}},
    {"data": {"name": "rmid"}, "mark": {"type": "line", "strokeWidth": 2.3}, "encoding": {"color": {"datum": "Regression mid", "type": "nominal"}}},
    {"data": {"name": "rupper"}, "mark": {"type": "line", "strokeWidth": 2.3}, "encoding": {"color": {"datum": "Regression upper", "type": "nominal"}}},
    {"data": {"name": "rlower"}, "mark": {"type": "line", "strokeWidth": 2.3}, "encoding": {"color": {"datum": "Regression lower", "type": "nominal"}}}
  ],
  "config": {
    "font": "DejaVu Sans",
    "view": {"stroke": "#000000", "strokeWidth": 1.2},
    "axis": {"labelFont": "DejaVu Sans", "labelFontSize": 15.8, "labelColor": "#000000", "titleFont": "DejaVu Sans", "titleFontSize": 15.8, "titleFontWeight": "normal", "titleColor": "#000000", "tickColor": "#000000", "tickSize": 5.5, "tickWidth": 1.2, "domainColor": "#000000", "domainWidth": 1.2, "gridColor": "#b0b0b0", "gridOpacity": 0.35, "gridWidth": 1.2, "labelPadding": 4.5},
    "legend": {"labelFont": "DejaVu Sans", "labelFontSize": 15.8, "labelColor": "#000000", "symbolType": "stroke", "symbolStrokeWidth": 2.3, "symbolSize": 1000, "clipHeight": 16, "rowPadding": 6, "padding": 5.5, "strokeColor": "#cccccc", "fillColor": "rgba(255,255,255,0.8)", "cornerRadius": 3, "offset": 8, "labelOffset": 14, "labelLimit": 300}
  }
}
